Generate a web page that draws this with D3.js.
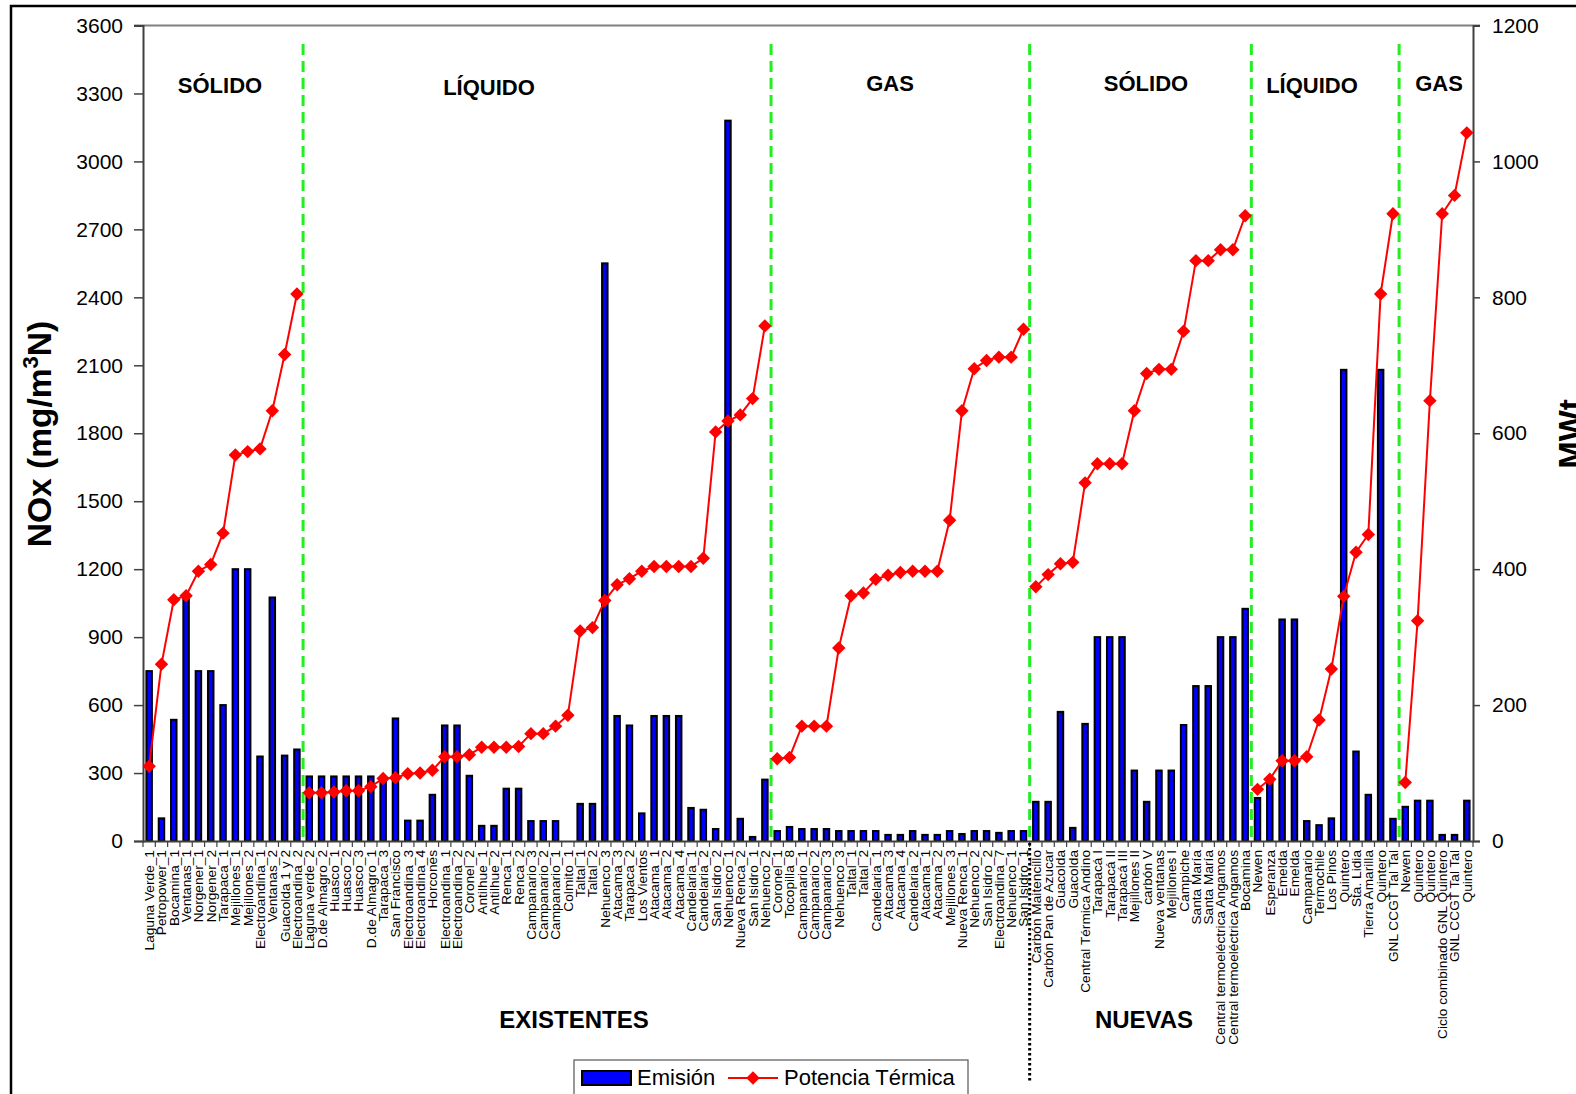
<!DOCTYPE html>
<html>
<head>
<meta charset="utf-8">
<script src="https://cdn.jsdelivr.net/npm/d3@7"></script>
<style>
  body { margin: 0; background: #fff; }
  svg { display: block; font-family: "Liberation Sans", Arial, sans-serif; }
</style>
</head>
<body>
<svg id="chart" width="1576" height="1094"></svg>
<script>
const categories = [
  "Laguna Verde_1","Petropower_1","Bocamina_1","Ventanas_1","Norgener_1","Norgener_2","Tarapaca_1","Mejillones_1","Mejillones_2","Electroandina_1","Ventanas_2","Guacolda 1 y 2","Electroandina_2",
  "Laguna verde_2","D.de Almagro_2","Huasco_1","Huasco_2","Huasco_3","D.de Almagro_1","Tarapaca_3","San Francisco","Electroandina_3","Electroandina_4","Horcones","Electroandina_1","Electroandina_2","Coronel_2","Antilhue_1","Antilhue_2","Renca_1","Renca_2","Campanario_3","Campanario_2","Campanario_1","Colmito_1","Taltal_1","Taltal_2","Nehuenco_3","Atacama_3","Tarapaca_2","Los Vientos","Atacama_1","Atacama_2","Atacama_4","Candelaria_1","Candelaria_2","San Isidro_2","Nehuenco_1","Nueva Renca_2","San Isidro_1","Nehuenco_2",
  "Coronel_1","Tocopilla_8","Campanario_1","Campanario_2","Campanario_3","Nehuenco_3","Taltal_1","Taltal_2","Candelaria_1","Atacama_3","Atacama_4","Candelaria_2","Atacama_1","Atacama_2","Mejillones_3","Nueva Renca_1","Nehuenco_2","San Isidro_2","Electroandina_7","Nehuenco_1","San Isidro_1",
  "Carbón Maitencillo","Carbón Pan de Azucar","Guacolda","Guacolda","Central Térmica Andino","Tarapacá I","Tarapacá II","Tarapacá III","Mejillones II","carbón V","Nueva ventanas","Mejillones I","Campiche","Santa María","Santa María","Central termoeléctrica Angamos","Central termoeléctrica Angamos","Bocamina",
  "Newen","Esperanza","Emelda","Emelda","Campanario","Termochile","Los Pinos","Quintero","Sta. Lidia","Tierra Amarilla","Quintero","GNL CCGT Tal Tal",
  "Newen","Quintero","Quintero","Ciclo combinado GNL Quintero","GNL CCGT Tal Tal","Quintero"
];

// Emisión NOx (mg/m3N)
const emision = [
  750,100,535,1075,750,750,600,1200,1200,373,1075,377,404,
  285,285,285,285,285,285,280,541,90,90,204,510,510,288,67,67,231,231,88,88,88,0,164,164,2550,552,510,122,552,552,552,146,138,53,3180,98,18,271,
  44,62,53,53,53,44,44,44,44,27,27,44,27,27,44,31,44,44,36,44,44,
  173,173,570,58,517,900,900,900,311,173,311,311,512,684,684,900,900,1025,
  190,262,978,978,88,70,100,2080,395,204,2080,98,
  151,178,178,27,27,178
];

// Potencia Térmica (MWt)
const potencia = [
  110,260,355,361,397,407,453,568,573,577,633,716,805,
  71,71,72,74,74,80,92,93,99,100,104,124,124,127,138,138,138,139,158,158,169,185,309,314,354,377,386,397,404,404,404,404,416,602,618,627,651,758,
  121,123,169,169,169,284,361,365,385,391,395,397,397,397,472,633,695,707,712,712,753,
  374,392,408,410,527,555,555,555,633,688,694,694,750,854,854,870,870,920,
  76,91,118,118,124,178,253,360,425,451,805,923,
  86,324,648,923,950,1042
];

// index where each group starts (last = total)
const groupStarts = [0, 13, 51, 72, 90, 102, 108];
const groupLabels = ["SÓLIDO", "LÍQUIDO", "GAS", "SÓLIDO", "LÍQUIDO", "GAS"];
const leftTicks = [0,300,600,900,1200,1500,1800,2100,2400,2700,3000,3300,3600];
const rightTicks = [0,200,400,600,800,1000,1200];
const blockLabels = ["EXISTENTES", "NUEVAS"];

const svg = d3.select("#chart");
const X0 = 143, X1 = 1473, Y0 = 841, Y1 = 25.5;
const FONT = '"Liberation Sans", Arial, sans-serif';

// outer border
svg.append("rect").attr("x", 11).attr("y", 6).attr("width", 1600).attr("height", 1200)
  .attr("fill", "none").attr("stroke", "#000").attr("stroke-width", 2.5);

const x = d3.scaleBand().domain(d3.range(categories.length)).range([X0, X1]).padding(0);
const xb = d3.scaleLinear().domain([0, categories.length]).range([X0, X1]);
const yL = d3.scaleLinear().domain([0, 3600]).range([Y0, Y1]);
const yR = d3.scaleLinear().domain([0, 1200]).range([Y0, Y1]);

// top border of plot
svg.append("line").attr("x1", X0 - 9).attr("x2", X1 + 7).attr("y1", yL(3600)).attr("y2", yL(3600))
  .attr("stroke", "#808080").attr("stroke-width", 2);

// green dividers
const dividers = groupStarts.slice(1, -1);
svg.append("g").selectAll("line").data(dividers).join("line")
  .attr("x1", d => xb(d)).attr("x2", d => xb(d))
  .attr("y1", 44).attr("y2", Y0)
  .attr("stroke", "#22ee22").attr("stroke-width", 3).attr("stroke-dasharray", "11,6");

// bars
const bw = 5.5;
svg.append("g").selectAll("rect").data(emision).join("rect")
  .attr("x", (d, i) => x(i) + x.bandwidth() / 2 - bw / 2)
  .attr("width", bw)
  .attr("y", d => yL(d))
  .attr("height", d => Math.max(0, Y0 - yL(d)))
  .attr("fill", d => d > 0 ? "#0000ff" : "none")
  .attr("stroke", d => d > 0 ? "#000" : "none")
  .attr("stroke-width", 2);

// left axis
const axL = svg.append("g").attr("transform", `translate(${X0},0)`)
  .call(d3.axisLeft(yL).tickValues(leftTicks).tickSize(9).tickPadding(11).tickFormat(d3.format("d")));
axL.select(".domain").attr("stroke", "#404040").attr("stroke-width", 2);
axL.selectAll(".tick line").attr("stroke", "#404040").attr("stroke-width", 1.5);
axL.selectAll("text").attr("font-size", "21px").attr("font-family", FONT).attr("fill", "#000");

// right axis
const axR = svg.append("g").attr("transform", `translate(${X1},0)`)
  .call(d3.axisRight(yR).tickValues(rightTicks).tickSize(7).tickPadding(12).tickFormat(d3.format("d")));
axR.select(".domain").attr("stroke", "#404040").attr("stroke-width", 2);
axR.selectAll(".tick line").attr("stroke", "#404040").attr("stroke-width", 1.5);
axR.selectAll("text").attr("font-size", "21px").attr("font-family", FONT).attr("fill", "#000");

// bottom axis with labels
const axB = svg.append("g").attr("transform", `translate(0,${Y0})`)
  .call(d3.axisBottom(x).tickSize(0).tickFormat(i => categories[i]));
axB.select(".domain").attr("stroke", "#404040").attr("stroke-width", 2);
axB.selectAll("text")
  .attr("font-size", "13.7px").attr("font-family", FONT).attr("fill", "#000")
  .attr("transform", "rotate(-90)")
  .attr("text-anchor", "end")
  .attr("x", -9).attr("y", 0).attr("dy", "0.36em");

// boundary ticks
svg.append("g").selectAll("line").data(d3.range(categories.length + 1)).join("line")
  .attr("x1", d => xb(d)).attr("x2", d => xb(d))
  .attr("y1", Y0).attr("y2", Y0 + 6)
  .attr("stroke", "#404040").attr("stroke-width", 1.2);

// lines per group
const line = d3.line().x(i => x(i) + x.bandwidth() / 2).y(i => yR(potencia[i]));
const gl = svg.append("g");
for (let g = 0; g < groupStarts.length - 1; g++) {
  const idx = d3.range(groupStarts[g], groupStarts[g + 1]);
  gl.append("path").attr("d", line(idx)).attr("fill", "none")
    .attr("stroke", "#ff0000").attr("stroke-width", 2);
}
const diamond = d3.symbol().type(d3.symbolDiamond2).size(115);
gl.selectAll("path.m").data(potencia).join("path").attr("class", "m")
  .attr("d", diamond)
  .attr("transform", (d, i) => `translate(${x(i) + x.bandwidth() / 2},${yR(d)})`)
  .attr("fill", "#ff0000");

// section headers
const groupCenters = [220, 489, 890, 1146, 1312, 1439];
const groupY = [93, 95, 91, 91, 93, 91];
svg.append("g").selectAll("text").data(groupLabels).join("text")
  .attr("x", (d, i) => groupCenters[i]).attr("y", (d, i) => groupY[i])
  .attr("text-anchor", "middle").attr("font-weight", "bold").attr("font-size", "22px")
  .attr("font-family", FONT).text(d => d);

// block labels
svg.append("g").selectAll("text").data(blockLabels).join("text")
  .attr("x", (d, i) => [574, 1144][i]).attr("y", 1028)
  .attr("text-anchor", "middle").attr("font-weight", "bold").attr("font-size", "24px")
  .attr("font-family", FONT).text(d => d);

// black dotted separator
svg.append("line").attr("x1", xb(72)).attr("x2", xb(72)).attr("y1", Y0 + 2).attr("y2", 1082)
  .attr("stroke", "#000").attr("stroke-width", 3).attr("stroke-dasharray", "2.5,2.5");

// axis titles
const tl = svg.append("text").attr("transform", "translate(51,434) rotate(-90)")
  .attr("text-anchor", "middle").attr("font-weight", "bold").attr("font-size", "33.5px").attr("font-family", FONT);
tl.append("tspan").text("NOx (mg/m");
tl.append("tspan").attr("font-size", "22px").attr("dy", "-13").text("3");
tl.append("tspan").attr("dy", "13").text("N)");

svg.append("text").attr("transform", "translate(1582,434) rotate(-90)")
  .attr("text-anchor", "middle").attr("font-weight", "bold").attr("font-size", "33px").attr("font-family", FONT)
  .text("MWt");

// legend
const lg = svg.append("g");
lg.append("rect").attr("x", 574).attr("y", 1060).attr("width", 394).attr("height", 50)
  .attr("fill", "#fff").attr("stroke", "#555").attr("stroke-width", 1.2);
lg.append("rect").attr("x", 582).attr("y", 1071).attr("width", 49).attr("height", 14)
  .attr("fill", "#0000ff").attr("stroke", "#000").attr("stroke-width", 2);
lg.append("text").attr("x", 637).attr("y", 1085).attr("font-size", "22px").attr("font-family", FONT).text("Emisión");
lg.append("line").attr("x1", 728).attr("x2", 778).attr("y1", 1078).attr("y2", 1078)
  .attr("stroke", "#ff0000").attr("stroke-width", 2);
lg.append("path").attr("d", diamond).attr("transform", "translate(753,1078)").attr("fill", "#ff0000");
lg.append("text").attr("x", 784).attr("y", 1085).attr("font-size", "22px").attr("font-family", FONT).text("Potencia Térmica");
</script>
</body>
</html>
